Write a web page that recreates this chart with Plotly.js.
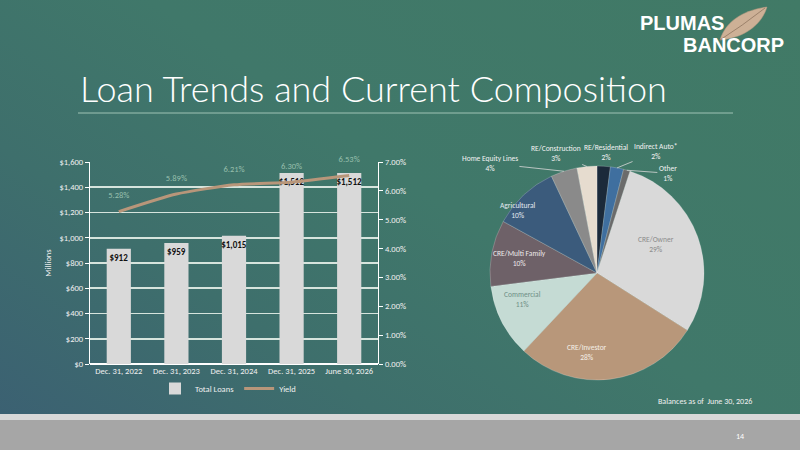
<!DOCTYPE html>
<html>
<head>
<meta charset="utf-8">
<script src="https://cdn.plot.ly/plotly-3.0.1.min.js"></script>
<style>
  html, body { margin:0; padding:0; }
  #bg { position:absolute; left:0; top:0; width:800px; height:450px;
        background: linear-gradient(35deg, #3b5f73 0%, #3e6f6c 30%, #40786a 55%, #417a66 100%); }
  #chart { position:absolute; left:0; top:0; width:800px; height:450px; }
</style>
</head>
<body>
<div id="bg"></div>
<div id="chart"></div>
<script>
// ---- data ----
const periods = ["Dec. 31, 2022", "Dec. 31, 2023", "Dec. 31, 2024", "Dec. 31, 2025", "June 30, 2026"];
const totalLoans = [912, 959, 1015, 1512, 1512];          // $ millions
const yieldPct = [0.0528, 0.0589, 0.0621, 0.0630, 0.0653];

const pieLabels = ["RE/Residential", "Indirect Auto*", "Other", "CRE/Owner", "CRE/Investor",
                   "Commercial", "CRE/Multi Family", "Agricultural", "Home Equity Lines", "RE/Construction"];
const pieValues = [2, 2, 1, 29, 28, 11, 10, 10, 4, 3];      // percent

// ---- styling ----
const pieColors = ["#1b2a3a", "#3f6f9f", "#6b6b6b", "#d9d9d9", "#b8977a",
                   "#c5dbd4", "#6e6168", "#3b5b7c", "#8a8a8a", "#e6dccf"];
const pieTextColors = ["#f2f2f2", "#f2f2f2", "#f2f2f2", "#8c8c8c", "#f4efe8",
                       "#6f8f86", "#ece8ea", "#e3e9f0", "#f2f2f2", "#f2f2f2"];
// label placement: inside labels at a fraction of the radius; outside ones at a pixel offset from the rim
const labelInsideR = [null, null, null, 0.78, 0.86, 0.78, 0.74, 0.80, null, null];
const labelOffset  = [[2, -14], [39, -16], [41, 3], null, null, null, null, null, [-74, -8], [-31, -13]];
const labelArrow   = [false, true, true, false, false, false, false, false, true, true];

const W = 800, H = 450;
const px = x => x / W;
const py = y => 1 - y / H;

const font = "Calibri, Carlito, 'Open Sans', sans-serif";

// pie geometry (pixels)
const pieL = 490, pieR = 704, pieT = 166, pieB = 380;
const pcx = (pieL + pieR) / 2, pcy = (pieT + pieB) / 2, prad = (pieR - pieL) / 2;

const traces = [
  {
    type: "bar", name: "Total Loans", x: periods, y: totalLoans,
    marker: { color: "#d9d9d9" }, width: 0.42,
    text: totalLoans.map(v => "<b>$" + v.toLocaleString("en-US") + "</b>"),
    textposition: "inside", insidetextanchor: "end", textangle: 0, constraintext: "none",
    textfont: { color: "#111", size: 9, family: font },
    hoverinfo: "skip"
  },
  {
    type: "scatter", mode: "lines+text", name: "Yield", x: periods, y: yieldPct,
    yaxis: "y2",
    line: { color: "#b8967a", width: 3, shape: "spline", smoothing: 0.6 },
    text: yieldPct.map(v => (v * 100).toFixed(2) + "%<br> "),
    textposition: "top center",
    textfont: { color: "#97bfac", size: 8.5, family: font },
    cliponaxis: false,
    hoverinfo: "skip"
  },
  {
    type: "pie", labels: pieLabels, values: pieValues, sort: false,
    direction: "clockwise", rotation: 0,
    domain: { x: [px(pieL), px(pieR)], y: [py(pieB), py(pieT)] },
    marker: { colors: pieColors, line: { color: "rgba(255,255,255,0.35)", width: 0.6 } },
    textinfo: "none",
    showlegend: false, hoverinfo: "skip"
  }
];

// pie labels as annotations, anchored on each slice's mid-angle
const total = pieValues.reduce((a, b) => a + b, 0);
const pieAnn = [];
let cum = 0;
pieValues.forEach((v, i) => {
  const th = 2 * Math.PI * (cum + v / 2) / total;
  cum += v;
  const sx = Math.sin(th), sy = -Math.cos(th);
  const txt = pieLabels[i] + "<br>" + v + "%";
  const f = { family: font, size: 7.5, color: pieTextColors[i] };
  if (labelInsideR[i] !== null) {
    pieAnn.push({ text: txt, xref: "paper", yref: "paper",
      x: px(pcx + labelInsideR[i] * prad * sx), y: py(pcy + labelInsideR[i] * prad * sy),
      showarrow: false, font: f });
  } else {
    const ex = pcx + prad * sx, ey = pcy + prad * sy;
    pieAnn.push({ text: txt, xref: "paper", yref: "paper",
      x: px(ex), y: py(ey), showarrow: true, arrowhead: 0, arrowwidth: 0.8,
      arrowcolor: labelArrow[i] ? "#d8d8d8" : "rgba(0,0,0,0)", standoff: 0, startstandoff: 0,
      ax: labelOffset[i][0], ay: labelOffset[i][1], font: f });
  }
});

// leaf shape (logo decoration)
function P(x, y) { return px(x).toFixed(4) + "," + py(y).toFixed(4); }
const leafPath = "M" + P(720, 40) + " C" + P(726, 20) + " " + P(745, 10) + " " + P(767, 7) +
                 " C" + P(762, 24) + " " + P(745, 38) + " " + P(720, 40) + " Z";
const leafVein = "M" + P(720, 40) + " Q" + P(742, 26) + " " + P(765, 8);

const layout = {
  width: W, height: H,
  margin: { l: 0, r: 0, t: 0, b: 0 },
  paper_bgcolor: "rgba(0,0,0,0)",
  plot_bgcolor: "rgba(0,0,0,0)",
  font: { family: font, color: "#f0f0f0", size: 8 },
  xaxis: {
    domain: [px(90), px(378)], type: "category",
    showline: false, showgrid: false, ticks: "",
    tickfont: { size: 8.5, color: "#f0f0f0" }, fixedrange: true
  },
  yaxis: {
    domain: [py(364), py(162)], range: [0, 1600], dtick: 200,
    tickprefix: "$", tickformat: ",",
    showgrid: true, gridcolor: "#d6e4dd", gridwidth: 1.6,
    showline: true, linecolor: "#ffffff", linewidth: 1.2,
    ticks: "outside", ticklen: 4, tickcolor: "#ffffff",
    zeroline: true, zerolinecolor: "#ffffff", zerolinewidth: 1.5,
    tickfont: { size: 8.5, color: "#f0f0f0" },
    title: { text: "Millions", font: { size: 8.5, color: "#f0f0f0" }, standoff: 6 },
    fixedrange: true
  },
  yaxis2: {
    overlaying: "y", side: "right", anchor: "x",
    range: [0, 0.07], dtick: 0.01, tickformat: ".2%",
    showgrid: false, zeroline: false,
    showline: true, linecolor: "#ffffff", linewidth: 1.2,
    ticks: "outside", ticklen: 4, tickcolor: "#ffffff",
    tickfont: { size: 8.5, color: "#f0f0f0" }, fixedrange: true
  },
  legend: {
    orientation: "h", x: px(228), xanchor: "center", y: py(374), yanchor: "top",
    font: { size: 8.5, color: "#f0f0f0" }, bgcolor: "rgba(0,0,0,0)",
    itemwidth: 30, tracegroupgap: 0
  },
  shapes: [
    { type: "line", xref: "paper", yref: "paper", x0: px(78), x1: px(733), y0: py(113), y1: py(113),
      line: { color: "#9fc3b5", width: 1 } },
    { type: "rect", xref: "paper", yref: "paper", x0: 0, x1: 1, y0: py(420), y1: py(414),
      line: { width: 0 }, fillcolor: "#d8d8d8" },
    { type: "rect", xref: "paper", yref: "paper", x0: 0, x1: 1, y0: 0, y1: py(420),
      line: { width: 0 }, fillcolor: "#a6a6a6" },
    { type: "path", xref: "paper", yref: "paper", path: leafPath,
      line: { color: "#b89a80", width: 0.5 }, fillcolor: "#cdb096" },
    { type: "path", xref: "paper", yref: "paper", path: leafVein,
      line: { color: "#8f7560", width: 0.8 } }
  ],
  annotations: [
    { text: "Loan Trends and Current Composition", xref: "paper", yref: "paper",
      x: px(78), y: py(88), xanchor: "left", yanchor: "middle", showarrow: false,
      font: { family: "Lato, 'Open Sans', sans-serif", size: 36, color: "#ffffff", weight: 300 } },
    { text: "<b>PLUMAS</b>", xref: "paper", yref: "paper", x: px(726), y: py(23),
      xanchor: "right", yanchor: "middle", showarrow: false,
      font: { family: "'Liberation Sans', Arial, sans-serif", size: 20, color: "#ffffff" } },
    { text: "<b>BANCORP</b>", xref: "paper", yref: "paper", x: px(786), y: py(45),
      xanchor: "right", yanchor: "middle", showarrow: false,
      font: { family: "'Liberation Sans', Arial, sans-serif", size: 20, color: "#ffffff" } },
    { text: "Balances as of  June 30, 2026", xref: "paper", yref: "paper", x: px(705), y: py(401),
      xanchor: "center", yanchor: "middle", showarrow: false,
      font: { size: 8, color: "#f0f0f0" } },
    { text: "14", xref: "paper", yref: "paper", x: px(740), y: py(436),
      xanchor: "center", yanchor: "middle", showarrow: false,
      font: { size: 8, color: "#ffffff" } }
  ].concat(pieAnn)
};

Plotly.newPlot("chart", traces, layout, { staticPlot: true, displayModeBar: false });
</script>
</body>
</html>
